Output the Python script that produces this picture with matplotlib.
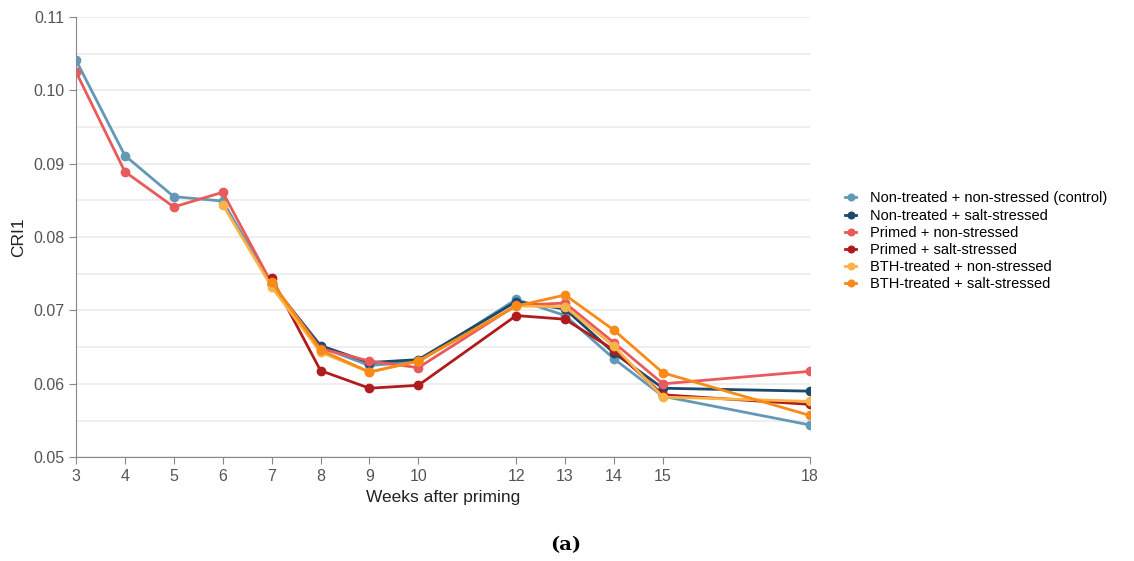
import matplotlib.pyplot as plt
import numpy as np

plt.rcParams['font.family'] = ['Liberation Sans', 'DejaVu Sans']

weeks = [3, 4, 5, 6, 7, 8, 9, 10, 12, 13, 14, 15, 18]
nan = np.nan

control = [0.1041, 0.0911, 0.0855, 0.0849, 0.0735, 0.0650, 0.0625, 0.0630, 0.0715, 0.0693, 0.0634, 0.0583, 0.0544]
nt_salt = [nan, nan, nan, nan, 0.0736, 0.0652, 0.0629, 0.0633, 0.0712, 0.0702, 0.0642, 0.0594, 0.0590]
primed = [0.1025, 0.0889, 0.0841, 0.0861, 0.0737, 0.0648, 0.0631, 0.0622, 0.0707, 0.0710, 0.0656, 0.0600, 0.0617]
primed_salt = [nan, nan, nan, nan, 0.0744, 0.0618, 0.0594, 0.0598, 0.0693, 0.0688, 0.0646, 0.0585, 0.0572]
bth = [nan, nan, nan, 0.0844, 0.0732, 0.0643, 0.0616, 0.0631, 0.0706, 0.0705, 0.0651, 0.0582, 0.0576]
bth_salt = [nan, nan, nan, nan, 0.0739, 0.0646, 0.0616, 0.0631, 0.0706, 0.0721, 0.0673, 0.0615, 0.0557]

labels = ["Non-treated + non-stressed (control)", "Non-treated + salt-stressed",
          "Primed + non-stressed", "Primed + salt-stressed",
          "BTH-treated + non-stressed", "BTH-treated + salt-stressed"]
series = [control, nt_salt, primed, primed_salt, bth, bth_salt]
colors = ["#6399b7", "#1c4a6b", "#e85a5c", "#b01c1e", "#fbb346", "#f98a16"]

fig = plt.figure(figsize=(11.34, 5.61), dpi=100)
ax = fig.add_axes([0.067, 0.185, 0.647, 0.785])

for vals, lab, c in zip(series, labels, colors):
    ax.plot(weeks, vals, color=c, lw=2, marker="o", ms=6, label=lab)

ax.set_xlim(3, 18)
ax.set_ylim(0.05, 0.11)
ax.set_xticks(weeks)
ax.set_yticks(np.arange(0.05, 0.111, 0.01))
ax.set_yticks(np.arange(0.055, 0.11, 0.01), minor=True)
ax.yaxis.set_major_formatter(plt.FormatStrFormatter("%.2f"))
ax.grid(axis="y", which="both", color="#ebebeb", lw=1.2)
ax.set_axisbelow(True)
for s in ["top", "right"]:
    ax.spines[s].set_visible(False)
for s in ["left", "bottom"]:
    ax.spines[s].set_color("#888888")
ax.tick_params(axis="y", which="minor", length=0)
ax.tick_params(labelsize=11.5, length=5)
ax.tick_params(axis="x", colors="#888888", labelcolor="#555555")
ax.tick_params(axis="y", colors="#888888", labelcolor="#555555")

ax.set_xlabel("Weeks after priming", fontsize=12.5, color="#222222", labelpad=4)
ax.set_ylabel("CRI1", fontsize=12.5, color="#222222", labelpad=5)

ax.legend(loc="center left", bbox_to_anchor=(1.03, 0.49), frameon=False,
          fontsize=10.5, handlelength=0.8, handletextpad=0.9, labelspacing=0.22,
          markerscale=0.8)

fig.text(0.499, 0.012, "(a)", ha="center", va="bottom", fontsize=14,
         family="DejaVu Serif", weight="bold")

fig.savefig("out.png", dpi=100)
